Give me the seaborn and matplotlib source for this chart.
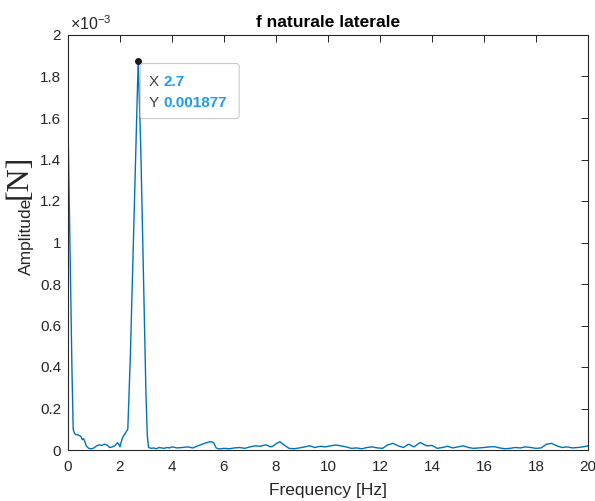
import matplotlib
matplotlib.use("Agg")
import matplotlib.pyplot as plt
from matplotlib.patches import FancyBboxPatch
import matplotlib.transforms as mtransforms
import seaborn as sns
import pandas as pd

# ---- data (amplitude in units of 1e-3 N) ----
freq = (
    [0.0, 0.05, 0.1, 0.15, 0.2, 0.25, 0.3, 0.4, 0.5, 0.55, 0.6, 0.65, 0.7]
    + [0.8, 0.9, 1.0, 1.1, 1.2, 1.3, 1.4, 1.5, 1.6, 1.7, 1.8, 1.9, 1.95, 2.0, 2.05, 2.1, 2.2, 2.3]
    + [2.4, 2.5, 2.6, 2.7, 2.8, 2.9, 3.0, 3.05]
    + [3.1, 3.2, 3.3, 3.4, 3.5, 3.6, 3.7, 3.8, 3.9, 4.0]
    + [4.2, 4.4, 4.6, 4.8, 5.0, 5.2, 5.4, 5.5, 5.6, 5.7, 5.8, 6.0]
    + [6.2, 6.4, 6.6, 6.8, 7.0, 7.2, 7.4, 7.6, 7.8, 7.9, 8.0]
    + [8.15, 8.3, 8.5, 8.7, 8.9, 9.1, 9.3, 9.5, 9.7, 9.9, 10.1]
    + [10.3, 10.5, 10.7, 10.9, 11.1, 11.3, 11.5, 11.7, 11.9, 12.1]
    + [12.3, 12.5, 12.7, 12.9, 13.1, 13.3, 13.55, 13.8, 14.0]
    + [14.2, 14.4, 14.6, 14.8, 15.0, 15.2, 15.4, 15.6, 15.8, 16.0]
    + [16.2, 16.4, 16.6, 16.8, 17.0, 17.2, 17.4, 17.6, 17.8, 18.0]
    + [18.2, 18.4, 18.6, 18.8, 19.0, 19.2, 19.4, 19.6, 19.8, 20.0]
)
amp_milli = (
    [1.57, 1.2, 0.8, 0.4, 0.1, 0.08, 0.075, 0.072, 0.065, 0.05, 0.055, 0.04, 0.02]
    + [0.008, 0.006, 0.01, 0.02, 0.025, 0.022, 0.028, 0.024, 0.012, 0.015, 0.02, 0.035, 0.03, 0.015, 0.04, 0.06, 0.08, 0.1]
    + [0.46, 0.93, 1.41, 1.877, 1.45, 0.85, 0.26, 0.07]
    + [0.012, 0.008, 0.01, 0.006, 0.012, 0.01, 0.008, 0.012, 0.01, 0.015]
    + [0.01, 0.012, 0.015, 0.01, 0.02, 0.03, 0.038, 0.04, 0.035, 0.01, 0.005, 0.008]
    + [0.006, 0.01, 0.012, 0.008, 0.015, 0.02, 0.018, 0.025, 0.015, 0.02, 0.03]
    + [0.04, 0.025, 0.008, 0.006, 0.01, 0.015, 0.02, 0.012, 0.018, 0.015, 0.02]
    + [0.024, 0.02, 0.015, 0.008, 0.01, 0.006, 0.012, 0.015, 0.01, 0.008]
    + [0.025, 0.032, 0.02, 0.012, 0.028, 0.015, 0.036, 0.02, 0.022]
    + [0.008, 0.012, 0.018, 0.01, 0.015, 0.02, 0.012, 0.008, 0.01, 0.012]
    + [0.015, 0.016, 0.01, 0.006, 0.008, 0.012, 0.01, 0.015, 0.012, 0.008]
    + [0.01, 0.028, 0.032, 0.02, 0.012, 0.015, 0.01, 0.012, 0.015, 0.02]
)
peak_x = 2.7
peak_y = 0.001877
tip_x_label = "2.7"
tip_y_label = "0.001877"
x_ticks = [0, 2, 4, 6, 8, 10, 12, 14, 16, 18, 20]
y_ticks_milli = [0, 0.2, 0.4, 0.6, 0.8, 1.0, 1.2, 1.4, 1.6, 1.8, 2.0]
y_tick_labels = ["0", "0.2", "0.4", "0.6", "0.8", "1", "1.2", "1.4", "1.6", "1.8", "2"]

df = pd.DataFrame({"Frequency": freq, "Amplitude": [a * 1e-3 for a in amp_milli]})

sns.set_theme(style="white")
plt.rcParams["font.family"] = ["Liberation Sans", "DejaVu Sans"]

axcol = "#262626"
W, H, DPI = 5.95, 5.01, 100
fig = plt.figure(figsize=(W, H), dpi=DPI)
ax = fig.add_axes([68 / 595, 1 - 450 / 501, 520 / 595, 415 / 501])

sns.lineplot(data=df, x="Frequency", y="Amplitude", ax=ax, color="#0072BD",
             linewidth=1.0, estimator=None, sort=False)

ax.set_xlim(0, 20)
ax.set_ylim(0, 2e-3)
ax.set_xticks(x_ticks)
ax.set_xticklabels([str(t) for t in x_ticks])
ax.set_yticks([v * 1e-3 for v in y_ticks_milli])
ax.set_yticklabels(y_tick_labels)
ax.tick_params(direction="in", length=5, width=0.7, colors=axcol, labelsize=11,
               top=True, right=True, labelcolor=axcol)
ax.tick_params(axis="y", pad=5)
ax.tick_params(axis="x", pad=7)
for s in ax.spines.values():
    s.set_color(axcol)
    s.set_linewidth(0.8)
    s.set_visible(True)

ax.set_xlabel("Frequency [Hz]", fontsize=12.5, color=axcol, labelpad=7)
ax.set_ylabel("Amplitude", fontsize=12.5, color=axcol)
ax.yaxis.set_label_coords(-0.065, (450 - 236) / 415)
fig.text(34 / 595, 1 - 199 / 501, "[N]", rotation=90, ha="right", va="bottom",
         fontsize=23, color=axcol, family=["Liberation Serif", "DejaVu Serif"])
ax.set_title("f naturale laterale", fontsize=12.5, fontweight="bold", color="black", pad=6)
ax.text(0.003, 1.006, r"$\mathregular{\times 10^{-3}}$", transform=ax.transAxes,
        ha="left", va="bottom", fontsize=11.5, color=axcol)

# data tip
ax.plot([peak_x], [peak_y], "o", color="#1a1a1a", markersize=4, zorder=6)
px, py = ax.transData.transform((peak_x, peak_y))
box = FancyBboxPatch((px + 2, py - 58), 99, 55, boxstyle="round,pad=0,rounding_size=3",
                     transform=mtransforms.IdentityTransform(), facecolor="white",
                     edgecolor="#c8c8c8", linewidth=0.8, zorder=5, alpha=0.95)
box.set_figure(fig)
fig.patches.append(box)
for dy, lab, val in [(-21, "X", tip_x_label), (-42, "Y", tip_y_label)]:
    fig.text((px + 10) / (DPI * W), (py + dy) / (DPI * H), lab, ha="left", va="center",
             fontsize=11, color="#404040", zorder=7)
    fig.text((px + 25) / (DPI * W), (py + dy) / (DPI * H), val, ha="left", va="center",
             fontsize=11, color="#1f9bef", fontweight="bold", zorder=7)

fig.savefig("out.png", dpi=DPI)
